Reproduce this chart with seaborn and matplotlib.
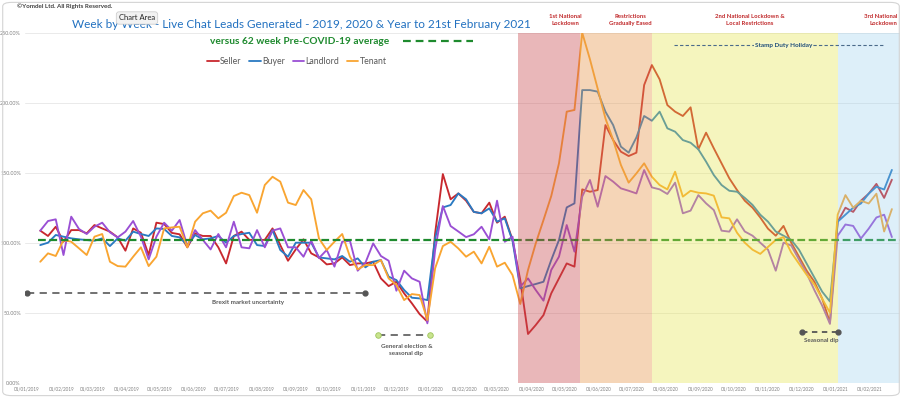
import numpy as np
import pandas as pd
import matplotlib
matplotlib.use("Agg")
import matplotlib.pyplot as plt
import matplotlib.dates as mdates
import seaborn as sns
from matplotlib.lines import Line2D
from matplotlib.patches import FancyBboxPatch

# ---------------- data ----------------
weeks = pd.date_range("2019-01-13", "2021-02-21", freq="7D")

seller = [108.6, 104.8, 111.4, 100.7, 109, 109, 106.7, 112.6, 110.2, 107.9, 103.8, 94.3, 110.2, 107.1, 91.2, 114.3, 113.3, 107, 106,
          96.7, 106.7, 104.8, 104.8, 96.7, 85.2, 104.8, 107.9, 102, 102, 102, 110.2, 98.3, 87.1, 95.2, 102.4, 92.4, 89.5, 84.5,
          85.2, 89.5, 84, 85.2, 85.2, 86.4, 74.5, 69, 72.1, 63.8, 56.7, 49, 43.6, 106.7, 149, 131, 135.2, 130, 122,
          121, 128.6, 114.3, 118.6, 101.9, 73.3, 34.8, 41.2, 48.3, 63.8, 74.5, 85.2, 82.9, 138.1, 136.4, 137.6,
          184, 173.3, 165, 161.9, 164.3, 212.6, 226.9, 216.7, 198.3, 193.6, 190.5, 196.7, 166.7, 178.6, 167.4, 156.7, 146, 137.6,
          130, 125, 118, 110, 105, 112, 100, 90, 80, 72, 60, 43, 115, 125, 122, 130, 135, 142, 132, 145]

buyer = [98.3, 100, 105.5, 104.3, 103.1, 102.4, 101.9, 101.4, 103.1, 97.6, 103.1, 101.4, 107.9, 106.2, 104.8, 110.2, 109.8, 104.8, 103.8,
         98.3, 105.5, 102.4, 103.1, 104.8, 100, 104.8, 106.2, 107.1, 98.3, 97.6, 109, 94.8, 90, 100, 100, 100, 89.5, 88.8,
         88.1, 90.5, 86.4, 88.8, 82.4, 86.4, 87.6, 75.7, 73.3, 66.2, 60.7, 60.2, 59, 103.1, 125.2, 126.9, 135.2, 131, 122,
         121, 124.5, 115, 117.4, 101.4, 67.4, 69, 70.5, 72.1, 87.6, 101.9, 125.2, 128.1, 209, 209, 207.9,
         193.6, 184, 168.6, 164.3, 175.2, 190.5, 187.1, 193.6, 181.7, 179.3, 173.3, 171.4, 166.7, 157.9, 148.3, 141.2, 137.1, 136.4,
         132, 127, 120, 115, 108, 105, 102, 95, 85, 75, 65, 58, 115, 120, 125, 128, 135, 140, 138, 152]

landlord = [108.6, 115.5, 116.7, 91.2, 118.6, 109.8, 106.2, 111.4, 114.3, 107.4, 103.8, 107.9, 115.5, 104.3, 88.1, 104.3, 114.3, 108.6, 116.2,
            97.6, 109, 102, 95.2, 106.2, 96.7, 115, 96.7, 96, 109, 96.7, 108.6, 110.2, 96.7, 96.7, 90, 101.4, 89, 94.8,
            82.9, 100.7, 101.4, 80, 85.7, 99.5, 90.5, 87.1, 65.7, 80, 74.5, 72.1, 42.4, 94.8, 126.2, 111.9, 108, 104, 106,
            111.4, 102.4, 130, 100.7, 104.3, 68.6, 74.5, 66.2, 58.6, 80.5, 90, 112.6, 93.6, 132.9, 144.8, 125.7,
            147.6, 143.6, 138.8, 137.1, 135.2, 151.9, 139.5, 138.1, 134.8, 142.9, 121, 122.9, 134, 128.1, 123.3, 108.6, 107.9, 116.7,
            108, 105, 100, 95, 80, 100, 98, 88, 78, 66, 55, 42, 105, 113, 112, 103, 110, 118, 120, 104]

tenant = [86.4, 92.4, 90.5, 101.9, 100.7, 96, 91.2, 104.3, 106.2, 86.4, 83.3, 82.9, 90, 96.7, 83.3, 90, 110.2, 110.9, 111.4,
          96.7, 115, 121, 122.9, 117.4, 121.4, 133.3, 135.7, 134, 121.4, 141.2, 147.1, 143.6, 128.6, 126.9, 137.6, 131, 103, 94.8,
          100.7, 106.2, 90, 81, 84, 84, 87.6, 74.5, 69.8, 59, 63.3, 62.6, 44.8, 81.7, 97.6, 100.7, 95.9, 90, 93.6,
          85.2, 97.1, 82.9, 85.7, 76.9, 56.2, 80.5, 99.5, 116.2, 133.3, 156.7, 193.6, 194.8, 250, 231, 210,
          188.8, 173.3, 155.5, 142.9, 149.5, 156.7, 147.1, 141.2, 138.1, 150.7, 132.9, 137.1, 135.7, 135.2, 133.6, 118.1, 117.4, 107.1,
          100, 95, 92, 97, 102, 104, 93, 85, 77, 70, 60, 50, 120, 134, 125, 130, 128, 135, 108, 124]

series_names = ["Seller", "Buyer", "Landlord", "Tenant"]
series_colors = ["#c8282e", "#2a7ac2", "#9a4fd4", "#f9a531"]
pre_covid_avg = 102.0
ytick_vals = [0, 50, 100, 150, 200, 250]
month_ticks = pd.date_range("2019-01-01", "2021-02-01", freq="MS")

period_labels = ["1st National\nLockdown", "Restrictions\nGradually Eased",
                 "2nd National Lockdown &\nLocal Restrictions", "3rd National\nLockdown"]
period_starts = ["2020-03-20", "2020-05-15", "2020-07-19", "2021-01-03"]
period_ends = ["2020-05-15", "2020-07-19", "2021-01-03", "2021-03-05"]
period_colors = ["#ca4b50", "#e6984d", "#e5e545", "#91cdee"]
period_alpha = [0.4, 0.4, 0.35, 0.3]

df = pd.DataFrame({"date": np.tile(weeks, 4),
                   "value": seller + buyer + landlord + tenant,
                   "series": np.repeat(series_names, len(weeks))})

# ---------------- figure ----------------
W, H = 902, 398
sns.set_theme(style="white")
plt.rcParams["font.family"] = ["Lato", "DejaVu Sans"]

fig = plt.figure(figsize=(W / 100, H / 100), dpi=100)
fig.patch.set_facecolor("white")
ax = fig.add_axes([25 / W, 1 - 382.7 / H, 875 / W, 350 / H])

def fx(x):
    return x / W

def fy(y):
    return 1 - y / H

sns.lineplot(data=df, x="date", y="value", hue="series", hue_order=series_names,
             palette=series_colors, linewidth=1.35, legend=False, ax=ax,
             estimator=None, zorder=2)

# pre-covid average
ax.plot([weeks[0] - pd.Timedelta(days=2), pd.Timestamp("2021-03-05")], [pre_covid_avg, pre_covid_avg],
        color="#1e8a2e", lw=1.6, ls=(0, (3.5, 1.6)), zorder=2.5)

# shaded periods (drawn over the lines, like the original)
for s, e, c, a in zip(period_starts, period_ends, period_colors, period_alpha):
    ax.axvspan(pd.Timestamp(s), pd.Timestamp(e), color=c, alpha=a, lw=0, zorder=3)

left = mdates.date2num(pd.Timestamp("2019-01-01")) - 1.8
ax.set_xlim(left, left + 875 / 1.106)
ax.set_ylim(0, 250)

ax.set_yticks(ytick_vals)
ax.set_yticklabels([f"{v:.2f}%" for v in ytick_vals], fontsize=3.9, color="#808080")
ax.set_xticks(month_ticks)
ax.set_xticklabels([d.strftime("%d/%m/%Y") for d in month_ticks], fontsize=3.3, color="#808080")
ax.tick_params(axis="both", length=0, pad=3)
ax.grid(axis="y", color="#e6e6e6", lw=0.6, zorder=0)
ax.grid(axis="x", visible=False)
for sp in ax.spines.values():
    sp.set_visible(False)
ax.set_xlabel("")
ax.set_ylabel("")

# ---------------- annotations in the plot ----------------
ann_gray = "#5a5a5a"
# Brexit
ax.plot([pd.Timestamp("2019-01-01"), pd.Timestamp("2019-11-03")], [64, 64], color="#666666",
        lw=1.3, ls=(0, (4, 3)), zorder=4)
ax.plot([pd.Timestamp("2019-01-01"), pd.Timestamp("2019-11-03")], [64, 64], ls="none",
        marker="o", ms=3.5, color="#555555", zorder=4)
ax.text(pd.Timestamp("2019-07-20"), 57, "Brexit market uncertainty", fontsize=4.5,
        fontweight="bold", color=ann_gray, ha="center", va="center", zorder=5)
# General election
ax.plot([pd.Timestamp("2019-11-14"), pd.Timestamp("2019-12-31")], [34, 34], color="#666666",
        lw=1.3, ls=(0, (4, 3)), zorder=4)
ax.plot([pd.Timestamp("2019-11-14"), pd.Timestamp("2019-12-31")], [34, 34], ls="none",
        marker="o", ms=4, mfc="#c9e48e", mec="#9cc45a", mew=0.6, zorder=4)
ax.text(pd.Timestamp("2019-12-10"), 23.5, "General election &\nseasonal dip", fontsize=4.5,
        fontweight="bold", color=ann_gray, ha="center", va="center", linespacing=1.5, zorder=5)
# Seasonal dip
ax.plot([pd.Timestamp("2020-12-02"), pd.Timestamp("2021-01-03")], [36, 36], color="#555555",
        lw=1.3, ls=(0, (3, 2.5)), zorder=4)
ax.plot([pd.Timestamp("2020-12-02"), pd.Timestamp("2021-01-03")], [36, 36], ls="none",
        marker="o", ms=3.5, color="#555555", zorder=4)
ax.text(pd.Timestamp("2020-12-19"), 30, "Seasonal dip", fontsize=4.5,
        fontweight="bold", color=ann_gray, ha="center", va="center", zorder=5)
# Stamp duty holiday
ax.plot([pd.Timestamp("2020-08-08"), pd.Timestamp("2021-02-14")], [241, 241], color="#4a6a8a",
        lw=0.8, ls=(0, (3, 2)), zorder=4)
ax.text(pd.Timestamp("2020-11-15"), 241, "Stamp Duty Holiday", fontsize=4.6, fontweight="bold",
        color="#1f4e79", ha="center", va="center", zorder=5,
        bbox=dict(boxstyle="square,pad=0.15", fc="#f7f7c6", ec="none"))

# ---------------- header texts ----------------
fig.text(fx(17), fy(6), "\u00a9Yomdel Ltd. All Rights Reserved.", fontsize=4.5, fontweight="bold",
         color="#404040", ha="left", va="center")
fig.text(fx(301), fy(24), "Week by Week - Live Chat Leads Generated - 2019, 2020 & Year to 21st February 2021",
         fontsize=8.5, color="#2271c0", ha="center", va="center")
fig.text(fx(137), fy(18), "Chart Area", fontsize=5.5, color="#222222", ha="center", va="center",
         zorder=10, bbox=dict(boxstyle="round,pad=0.35", fc="#f2f2f2", ec="#c8c8c8", lw=0.5))
fig.text(fx(300), fy(41), "versus 62 week Pre-COVID-19 average", fontsize=7.3, fontweight="bold",
         color="#1e8a2e", ha="center", va="center")
fig.add_artist(Line2D([fx(403), fx(473)], [fy(41), fy(41)], color="#1e8a2e", lw=1.6,
                      ls=(0, (3.5, 2.2))))

label_pos = [(565, "center"), (630, "center"), (750, "center"), (897, "right")]
for (x, ha), lab in zip(label_pos, period_labels):
    fig.text(fx(x), fy(20), lab, fontsize=4.3, fontweight="bold", color="#c0282a",
             ha=ha, va="center", multialignment=ha, linespacing=1.45)

handles = [Line2D([0], [0], color=c, lw=1.3) for c in series_colors]
fig.legend(handles, series_names, loc="center", bbox_to_anchor=(fx(297), fy(62)), ncol=4,
           frameon=False, fontsize=6.3, handlelength=1.3, handletextpad=0.15,
           columnspacing=0.9, labelcolor="#595959")

fig.add_artist(FancyBboxPatch((0.003, 0.006), 0.994, 0.988, boxstyle="round,pad=0,rounding_size=0.01",
                              transform=fig.transFigure, fc="none", ec="#d4d4d4", lw=0.8))

fig.savefig("out.png", dpi=100)
